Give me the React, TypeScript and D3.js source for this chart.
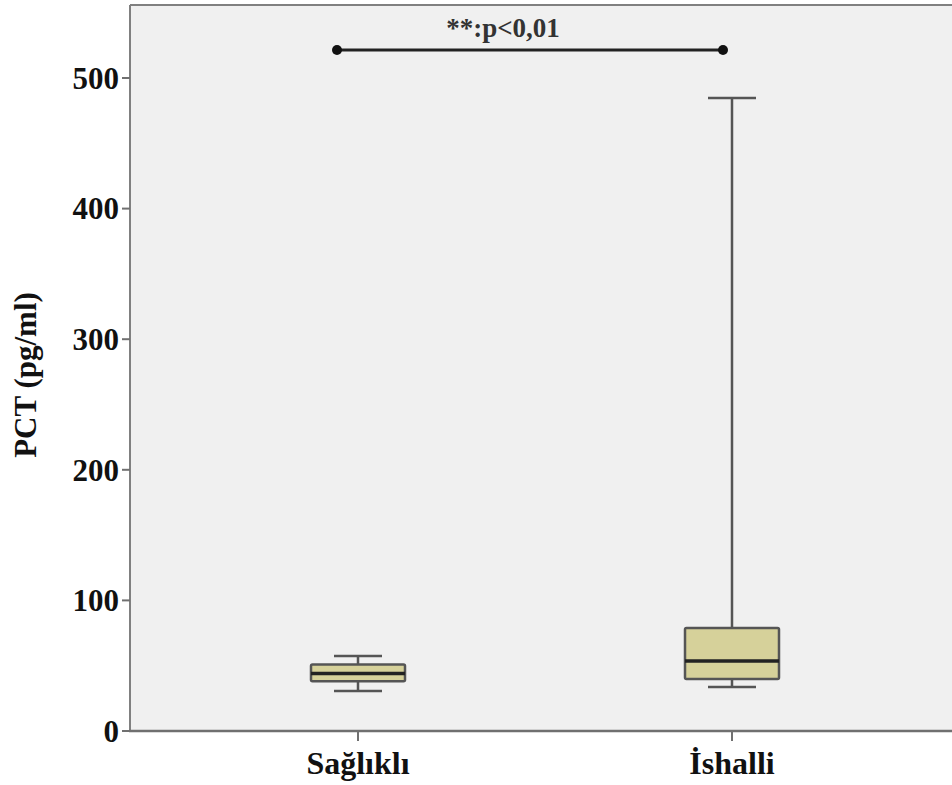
import React from "react";
import * as d3 from "d3";

const groups = ["Sağlıklı", "İshalli"];
const whiskerLow = [30.6, 33.7];
const q1 = [38, 39.8];
const median = [44, 53.6];
const q3 = [51, 78.9];
const whiskerHigh = [57.4, 484.7];
const yTicks = [0, 100, 200, 300, 400, 500];
const sigLabel = "**:p<0,01";
const yTitle = "PCT (pg/ml)";

const W = 952, H = 785;
const left = 130, top = 5, bottom = 731, right = 960;

export default function App() {
  const y = d3.scaleLinear().domain([0, 500]).range([bottom, 78]);
  const x = d3.scalePoint<string>().domain(groups).range([358, 732]);
  const boxHalf = 47;
  const capHalf = 24;
  const font = "'Liberation Serif', 'Times New Roman', serif";
  return (
    <div style={{ position: "absolute", left: 0, top: 0 }}>
      <svg width={W} height={H} style={{ display: "block", background: "#fff" }}>
        <rect x={left} y={top} width={right - left} height={bottom - top} fill="#f0f0f0" />
        <line x1={left} x2={right} y1={top} y2={top} stroke="#808080" strokeWidth={2} />
        <line x1={left} x2={left} y1={top} y2={bottom} stroke="#808080" strokeWidth={2} />
        <line x1={left - 1} x2={right} y1={bottom} y2={bottom} stroke="#707070" strokeWidth={2.5} />
        {yTicks.map((t) => (
          <g key={t}>
            <line x1={left - 8} x2={left} y1={y(t)} y2={y(t)} stroke="#707070" strokeWidth={2} />
            <text x={left - 11} y={y(t)} dy="0.35em" textAnchor="end" fontFamily={font} fontWeight="bold" fontSize={31} fill="#111">{t}</text>
          </g>
        ))}
        <text transform={`translate(36,${375}) rotate(-90)`} textAnchor="middle" fontFamily={font} fontWeight="bold" fontSize={31} fill="#111">{yTitle}</text>
        {groups.map((g, i) => {
          const cx = x(g)!;
          return (
            <g key={g}>
              <line x1={cx} x2={cx} y1={bottom} y2={bottom + 10} stroke="#707070" strokeWidth={2} />
              <text x={cx} y={bottom + 43} textAnchor="middle" fontFamily={font} fontWeight="bold" fontSize={32} fill="#111">{g}</text>
              <line x1={cx} x2={cx} y1={y(whiskerHigh[i])} y2={y(q3[i])} stroke="#555" strokeWidth={2.5} />
              <line x1={cx} x2={cx} y1={y(q1[i])} y2={y(whiskerLow[i])} stroke="#555" strokeWidth={2.5} />
              <line x1={cx - capHalf} x2={cx + capHalf} y1={y(whiskerHigh[i])} y2={y(whiskerHigh[i])} stroke="#555" strokeWidth={2.5} />
              <line x1={cx - capHalf} x2={cx + capHalf} y1={y(whiskerLow[i])} y2={y(whiskerLow[i])} stroke="#555" strokeWidth={2.5} />
              <rect x={cx - boxHalf} y={y(q3[i])} width={boxHalf * 2} height={y(q1[i]) - y(q3[i])} fill="#d6d19a" stroke="#555" strokeWidth={2.5} rx={1.5} />
              <line x1={cx - boxHalf} x2={cx + boxHalf} y1={y(median[i])} y2={y(median[i])} stroke="#222" strokeWidth={3.5} />
            </g>
          );
        })}
        <line x1={337} x2={723} y1={50} y2={50} stroke="#222" strokeWidth={3} />
        <circle cx={337} cy={50} r={5} fill="#111" />
        <circle cx={723} cy={50} r={5} fill="#111" />
        <text x={503} y={37} textAnchor="middle" fontFamily={font} fontWeight="bold" fontSize={27} fill="#333">{sigLabel}</text>
      </svg>
    </div>
  );
}
